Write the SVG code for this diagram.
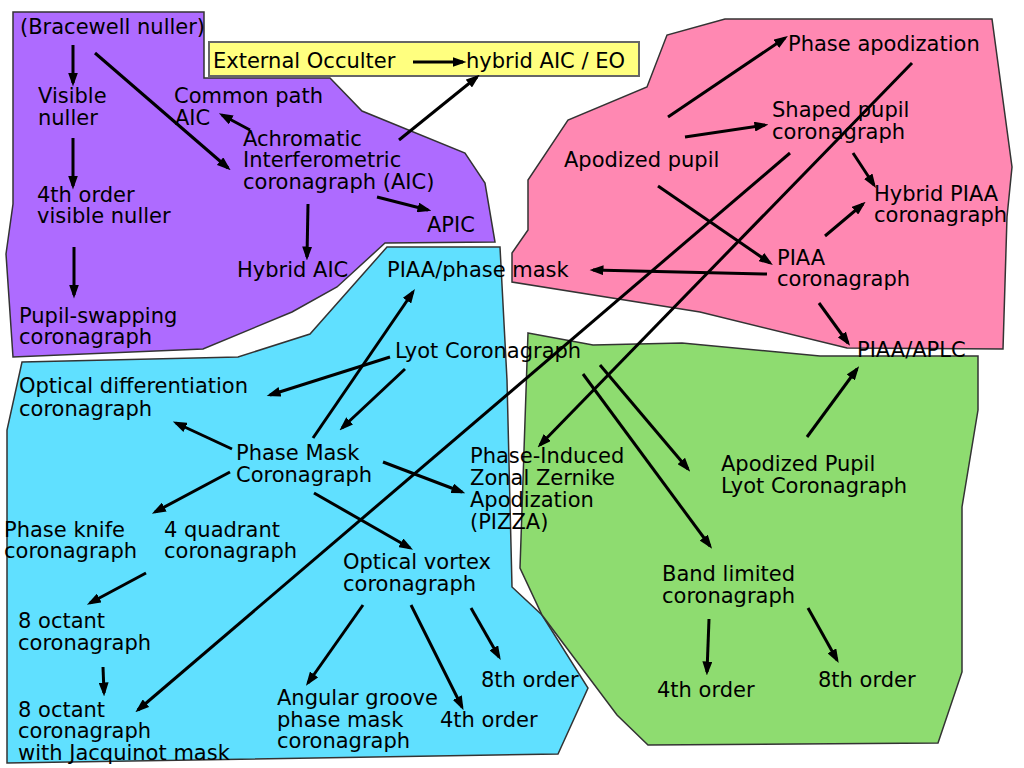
<svg xmlns="http://www.w3.org/2000/svg" width="1024" height="768" viewBox="0 0 1024 768">
<defs>
<style>
.t{font-family:"DejaVu Sans","Liberation Sans",sans-serif;font-size:21px;fill:#000}
.region{stroke:#333;stroke-width:1.5;stroke-linejoin:miter}
.conn line{stroke:#000;stroke-width:3;marker-end:url(#ah)}
</style>
<marker id="ah" viewBox="0 0 14 10" refX="10.5" refY="5" markerWidth="14" markerHeight="10" markerUnits="userSpaceOnUse" orient="auto">
<path d="M0,0 L14,5 L0,10 z" fill="#000"/>
</marker>
</defs>
<rect width="1024" height="768" fill="#fff"/>
<g id="regions">
<polygon id="purple" class="region" fill="#AE6BFF" points="13,12 204,12 204,78 330,78 362,111 465,153 485,183 495,242 385,243 337,287 292,312 203,349 13,357 6,254 13,204"/>
<polygon id="pink" class="region" fill="#FF88B2" points="725,19 992,19 1012,167 1007,217 1003,349 847,348 700,312 512,282 512,253 528,230 528,180 568,120 647,87 667,35"/>
<polygon id="cyan" class="region" fill="#60E0FF" points="22,362 238,357 310,334 387,247 500,247 507,380 512,587 542,615 588,688 558,754 7,763 7,430"/>
<polygon id="green" class="region" fill="#8EDC70" points="528,333 593,345 682,343 820,356 978,356 978,410 962,507 962,672 938,743 648,745 617,715 542,615 520,568"/>
<rect id="yellowbox" x="209" y="42" width="430" height="34" fill="#FFFF7F" stroke="#666" stroke-width="2"/>
</g>
<g id="nodes">
<g id="n-bracewell"><text class="t" x="20" y="34">(Bracewell nuller)</text></g>
<g id="n-visible"><text class="t" x="38" y="103">Visible<tspan x="38" dy="22">nuller</tspan></text></g>
<g id="n-4thvis"><text class="t" x="37" y="202">4th order<tspan x="37" dy="21">visible nuller</tspan></text></g>
<g id="n-pupilswap"><text class="t" x="19" y="323">Pupil-swapping<tspan x="19" dy="21">coronagraph</tspan></text></g>
<g id="n-commonpath"><text class="t" x="174" y="103">Common path<tspan x="175" dy="22">AIC</tspan></text></g>
<g id="n-aic"><text class="t" x="243" y="146">Achromatic<tspan x="243" dy="21">Interferometric</tspan><tspan x="243" dy="22">coronagraph (AIC)</tspan></text></g>
<g id="n-apic"><text class="t" x="427" y="232">APIC</text></g>
<g id="n-hybridaic"><text class="t" x="237" y="277">Hybrid AIC</text></g>
<g id="n-eo"><text class="t" x="213" y="68">External Occulter</text></g>
<g id="n-hybridaiceo"><text class="t" x="466" y="68">hybrid AIC / EO</text></g>
<g id="n-phaseapod"><text class="t" x="788" y="51">Phase apodization</text></g>
<g id="n-shaped"><text class="t" x="772" y="117">Shaped pupil<tspan x="772" dy="22">coronagraph</tspan></text></g>
<g id="n-apodpupil"><text class="t" x="564" y="167">Apodized pupil</text></g>
<g id="n-hybridpiaa"><text class="t" x="874" y="201">Hybrid PIAA<tspan x="874" dy="21">coronagraph</tspan></text></g>
<g id="n-piaa"><text class="t" x="777" y="265">PIAA<tspan x="777" dy="21">coronagraph</tspan></text></g>
<g id="n-piaaaplc"><text class="t" x="857" y="357">PIAA/APLC</text></g>
<g id="n-piaaphase"><text class="t" x="387" y="277">PIAA/phase mask</text></g>
<g id="n-lyot"><text class="t" x="395" y="358">Lyot Coronagraph</text></g>
<g id="n-optdiff"><text class="t" x="19" y="393">Optical differentiation<tspan x="19" dy="23">coronagraph</tspan></text></g>
<g id="n-phasemask"><text class="t" x="236" y="460">Phase Mask<tspan x="236" dy="22">Coronagraph</tspan></text></g>
<g id="n-knife"><text class="t" x="4" y="537">Phase knife<tspan x="4" dy="21">coronagraph</tspan></text></g>
<g id="n-4quad"><text class="t" x="164" y="537">4 quadrant<tspan x="164" dy="21">coronagraph</tspan></text></g>
<g id="n-vortex"><text class="t" x="343" y="569">Optical vortex<tspan x="343" dy="22">coronagraph</tspan></text></g>
<g id="n-8oct"><text class="t" x="18" y="628">8 octant<tspan x="18" dy="22">coronagraph</tspan></text></g>
<g id="n-8octj"><text class="t" x="18" y="717">8 octant<tspan x="18" dy="21">coronagraph</tspan><tspan x="18" dy="22">with Jacquinot mask</tspan></text></g>
<g id="n-angular"><text class="t" x="277" y="705">Angular groove<tspan x="277" dy="22">phase mask</tspan><tspan x="277" dy="21">coronagraph</tspan></text></g>
<g id="n-v4th"><text class="t" x="440" y="727">4th order</text></g>
<g id="n-v8th"><text class="t" x="481" y="687">8th order</text></g>
<g id="n-pizza"><text class="t" x="470" y="463">Phase-Induced<tspan x="470" dy="22">Zonal Zernike</tspan><tspan x="470" dy="22">Apodization</tspan><tspan x="470" dy="22">(PIZZA)</tspan></text></g>
<g id="n-aplc"><text class="t" x="721" y="471">Apodized Pupil<tspan x="721" dy="22">Lyot Coronagraph</tspan></text></g>
<g id="n-band"><text class="t" x="662" y="581">Band limited<tspan x="662" dy="22">coronagraph</tspan></text></g>
<g id="n-b4th"><text class="t" x="657" y="697">4th order</text></g>
<g id="n-b8th"><text class="t" x="818" y="687">8th order</text></g>
</g>
<g id="connectors" class="conn">
<line x1="73" y1="45" x2="73" y2="83"/>
<line x1="95" y1="53" x2="228" y2="168"/>
<line x1="73" y1="138" x2="73" y2="186"/>
<line x1="74" y1="247" x2="74" y2="295"/>
<line x1="250" y1="130" x2="222" y2="115"/>
<line x1="377" y1="197" x2="428" y2="210"/>
<line x1="308" y1="204" x2="307" y2="257"/>
<line x1="399" y1="140" x2="477" y2="77"/>
<line x1="413" y1="62" x2="463" y2="62"/>
<line x1="668" y1="117" x2="785" y2="38"/>
<line x1="685" y1="137" x2="765" y2="125"/>
<line x1="658" y1="186" x2="770" y2="263"/>
<line x1="853" y1="153" x2="874" y2="185"/>
<line x1="825" y1="236" x2="863" y2="204"/>
<line x1="767" y1="274" x2="593" y2="270"/>
<line x1="819" y1="303" x2="848" y2="343"/>
<line x1="790" y1="153" x2="138" y2="710"/>
<line x1="912" y1="63" x2="540" y2="445"/>
<line x1="313" y1="438" x2="413" y2="292"/>
<line x1="390" y1="357" x2="270" y2="395"/>
<line x1="405" y1="369" x2="342" y2="428"/>
<line x1="232" y1="449" x2="176" y2="423"/>
<line x1="230" y1="472" x2="155" y2="512"/>
<line x1="383" y1="462" x2="462" y2="492"/>
<line x1="314" y1="493" x2="410" y2="548"/>
<line x1="146" y1="573" x2="90" y2="603"/>
<line x1="103" y1="667" x2="104" y2="693"/>
<line x1="363" y1="605" x2="308" y2="683"/>
<line x1="411" y1="605" x2="462" y2="707"/>
<line x1="471" y1="608" x2="499" y2="657"/>
<line x1="600" y1="365" x2="688" y2="469"/>
<line x1="583" y1="374" x2="710" y2="546"/>
<line x1="807" y1="437" x2="857" y2="369"/>
<line x1="709" y1="619" x2="707" y2="672"/>
<line x1="808" y1="608" x2="837" y2="660"/>
</g>
</svg>
